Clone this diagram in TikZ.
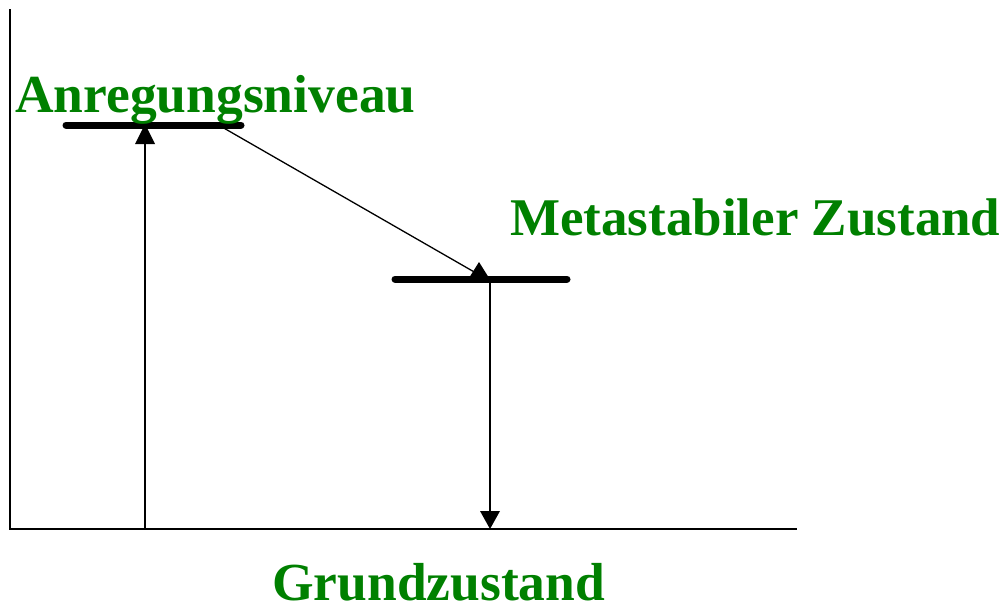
\documentclass[tikz,border=0pt]{standalone}
\usepackage{fontspec}
\setmainfont{Liberation Serif}
\definecolor{lblgreen}{RGB}{0,128,0}
\begin{document}
\begin{tikzpicture}[x=1pt,y=-1pt,
  level/.style={line width=7pt,line cap=round},
  axis/.style={line width=1.8pt},
  conn/.style={line width=1.3pt},
  lbl/.style={text=lblgreen,font=\fontsize{53.5}{60}\selectfont\bfseries,inner sep=0pt,anchor=base west},
  head/.style={fill=black}]
\useasboundingbox (0,0) rectangle (1007,605);
% axes
\coordinate (top) at (10,9);
\coordinate (origin) at (10,529);
\coordinate (xend) at (797,529);
\draw[axis] (top) -- (origin) -- (xend);
% levels
\coordinate (u1) at (66,125);
\coordinate (u2) at (241,125);
\coordinate (m1) at (395,279);
\coordinate (m2) at (567,279);
\draw[level] (u1) -- (u2);
\draw[level] (m1) -- (m2);
% up arrow
\coordinate (a0) at (145,529);
\coordinate (a1) at (145,144);
\draw[conn] (a0) -- (a1);
\fill[head] (145,124) -- (155,144) -- (135,144) -- cycle;
% diagonal
\coordinate (d0) at (222,127);
\coordinate (d1) at (476,273);
\draw[conn] (d0) -- (d1);
\fill[head] (479,262) -- (489,278) -- (469,278) -- cycle;
% down arrow
\coordinate (b0) at (490,279);
\coordinate (b1) at (490,511);
\draw[conn] (b0) -- (b1);
\fill[head] (490,529) -- (480,511) -- (500,511) -- cycle;
% labels
\node[lbl] (anr) at (15,112) {Anregungsniveau};
\node[lbl,font=\fontsize{53}{60}\selectfont\bfseries] (meta) at (510,235) {Metastabiler Zustand};
\node[lbl] (grund) at (272,600) {Grundzustand};
\end{tikzpicture}
\end{document}
